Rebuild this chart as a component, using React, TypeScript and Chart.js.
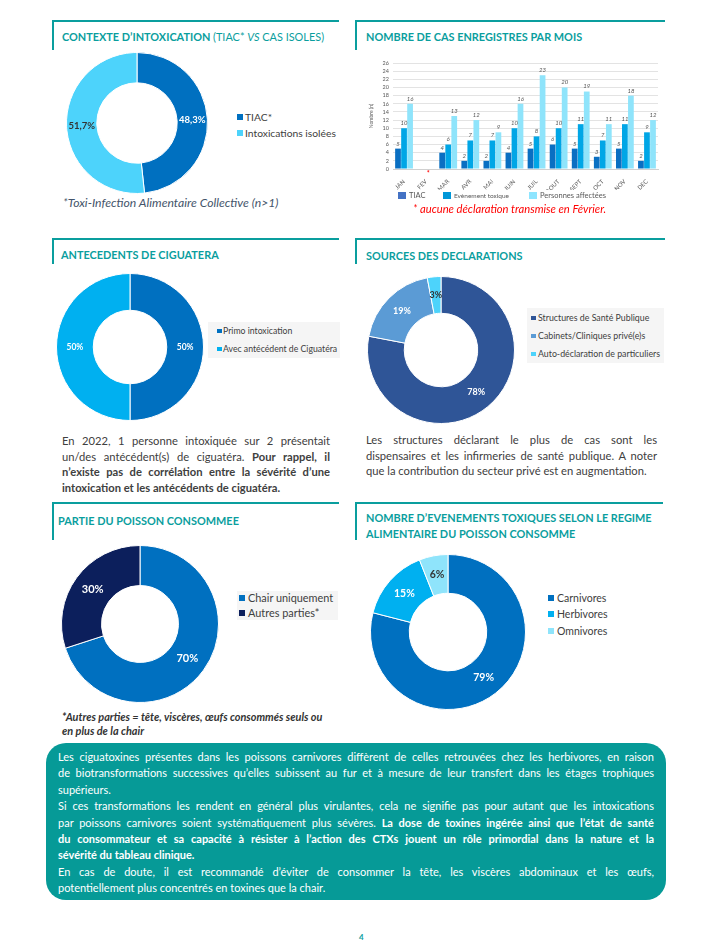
import React, { useEffect, useRef } from "react";
import { Chart, registerables } from "chart.js";

Chart.register(...registerables);

const FONT = "Lato, 'Open Sans', sans-serif";
const TEAL = "#0a9e9e";
const BOX_TEAL = "#069a97";
const TEXT = "#404040";

// ---------- Bar chart data ----------
const months = ["JAN", "FEV", "MAR", "AVR", "MAI", "JUIN", "JUIL", "AOUT", "SEPT", "OCT", "NOV", "DEC"];
const monthSeries = ["TIAC", "Evènement toxique", "Personnes affectées"];
const tiacByMonth = [5, null, 4, 2, 2, 4, 5, 6, 5, 3, 5, 2];
const eventsByMonth = [10, null, 6, 7, 7, 10, 8, 10, 11, 7, 11, 9];
const peopleByMonth = [16, null, 13, 12, 9, 16, 23, 20, 19, 11, 18, 12];
const monthColors = ["#0a6fc2", "#00a6e6", "#8fe4fb"];
const monthLegendColors = ["#4472c4", "#0097d8", "#8ee5ff"];
const yAxisMax = 26;
const yAxisStep = 2;
const yAxisTitle = "Nombre (n)";
const missingMonthIndex = 1;

// ---------- Doughnut data ----------
const contextLabels = ["TIAC*", "Intoxications isolées"];
const contextValues = [48.3, 51.7];
const contextColors = ["#0070c0", "#4dd3fb"];

const historyLabels = ["Primo intoxication", "Avec antécédent de Ciguatéra"];
const historyValues = [50, 50];
const historyColors = ["#0070c0", "#00b0f0"];

const sourceLabels = ["Structures de Santé Publique", "Cabinets/Cliniques privé(e)s", "Auto-déclaration de particuliers"];
const sourceValues = [78, 19, 3];
const sourceColors = ["#2f5597", "#5b9bd5", "#4dd3fb"];

const partLabels = ["Chair uniquement", "Autres parties*"];
const partValues = [70, 30];
const partColors = ["#0070c0", "#0c1f5c"];

const dietLabels = ["Carnivores", "Herbivores", "Omnivores"];
const dietValues = [79, 15, 6];
const dietColors = ["#0070c0", "#00b0f0", "#8fe4fb"];

type DonutProps = {
  cx: number;
  cy: number;
  r: number;
  cutout: string;
  values: number[];
  colors: string[];
  labelColors: string[];
  fontSize: number;
  format: (v: number) => string;
};

function Donut({ cx, cy, r, cutout, values, colors, labelColors, fontSize, format }: DonutProps) {
  const ref = useRef<HTMLCanvasElement | null>(null);
  const size = 2 * r + 2;
  useEffect(() => {
    if (!ref.current) return;
    const labelPlugin = {
      id: "arcLabels",
      afterDatasetsDraw(chart: any) {
        const ctx = chart.ctx;
        const meta = chart.getDatasetMeta(0);
        meta.data.forEach((arc: any, i: number) => {
          const p = arc.tooltipPosition();
          ctx.save();
          ctx.font = `bold ${fontSize}px ${FONT}`;
          ctx.fillStyle = labelColors[i];
          ctx.textAlign = "center";
          ctx.textBaseline = "middle";
          ctx.fillText(format(chart.data.datasets[0].data[i]), p.x, p.y);
          ctx.restore();
        });
      },
    };
    const chart = new Chart(ref.current, {
      type: "doughnut",
      data: {
        labels: values.map((_, i) => String(i)),
        datasets: [{ data: values, backgroundColor: colors, borderColor: "#ffffff", borderWidth: 1 }],
      },
      options: {
        responsive: false,
        animation: false,
        cutout,
        layout: { padding: 0 },
        plugins: { legend: { display: false }, tooltip: { enabled: false } },
      },
      plugins: [labelPlugin],
    });
    return () => chart.destroy();
  }, []);
  return (
    <canvas
      ref={ref}
      width={size}
      height={size}
      style={{ position: "absolute", left: cx - size / 2, top: cy - size / 2, width: size, height: size }}
    />
  );
}

function MonthlyBars() {
  const ref = useRef<HTMLCanvasElement | null>(null);
  useEffect(() => {
    if (!ref.current) return;
    const valuePlugin = {
      id: "barValues",
      afterDatasetsDraw(chart: any) {
        const ctx = chart.ctx;
        chart.data.datasets.forEach((ds: any, di: number) => {
          const meta = chart.getDatasetMeta(di);
          meta.data.forEach((bar: any, i: number) => {
            const v = ds.data[i];
            if (v === null || v === undefined) return;
            ctx.save();
            ctx.font = `italic 6px ${FONT}`;
            ctx.fillStyle = "#595959";
            ctx.textAlign = "center";
            ctx.textBaseline = "bottom";
            ctx.fillText(String(v), bar.x, bar.y - 2);
            ctx.restore();
          });
        });
      },
      afterDraw(chart: any) {
        const ctx = chart.ctx;
        const x = chart.scales.x.getPixelForValue(missingMonthIndex);
        ctx.save();
        ctx.font = `bold 7px ${FONT}`;
        ctx.fillStyle = "#ff0000";
        ctx.textAlign = "center";
        ctx.textBaseline = "top";
        ctx.fillText("*", x + 2, chart.chartArea.bottom + 1);
        ctx.restore();
      },
    };
    const chart = new Chart(ref.current, {
      type: "bar",
      data: {
        labels: months,
        datasets: [tiacByMonth, eventsByMonth, peopleByMonth].map((d, i) => ({
          label: monthSeries[i],
          data: d,
          backgroundColor: monthColors[i],
        })),
      },
      options: {
        responsive: false,
        animation: false,
        layout: { padding: { top: 13, right: 7, left: 0, bottom: 0 } },
        datasets: { bar: { categoryPercentage: 0.82, barPercentage: 0.95 } },
        plugins: { legend: { display: false }, tooltip: { enabled: false } },
        scales: {
          x: {
            grid: { display: false },
            border: { color: "#d0d0d0" },
            ticks: {
              font: { size: 6, family: FONT },
              color: "#595959",
              minRotation: 45,
              maxRotation: 45,
              padding: 1,
              autoSkip: false,
            },
            afterFit(s: any) {
              s.height = 21;
            },
          },
          y: {
            min: 0,
            max: yAxisMax,
            ticks: { stepSize: yAxisStep, autoSkip: false, font: { size: 5.5, family: FONT }, color: "#595959", padding: 4 },
            grid: { color: "#e3e3e3", drawTicks: false },
            border: { display: false },
            title: { display: true, text: yAxisTitle, font: { size: 5, family: FONT }, color: "#595959", padding: { top: 8, bottom: 0 } },
            afterFit(s: any) {
              s.width = 33;
            },
          },
        },
      },
      plugins: [valuePlugin],
    });
    return () => chart.destroy();
  }, []);
  return <canvas ref={ref} width={305} height={140} style={{ position: "absolute", left: 360, top: 50, width: 305, height: 140 }} />;
}

const abs = (left: number, top: number, extra: React.CSSProperties = {}): React.CSSProperties => ({
  position: "absolute",
  left,
  top,
  ...extra,
});

function Corner({ x, y, w, h }: { x: number; y: number; w: number; h: number }) {
  return (
    <>
      <div style={abs(x, y, { width: w, height: 1.5, background: TEAL })} />
      <div style={abs(x, y, { width: 1.5, height: h, background: TEAL })} />
    </>
  );
}

function Title({ x, y, children, size = 10.9 }: { x: number; y: number; children: React.ReactNode; size?: number }) {
  return (
    <div style={abs(x, y - 8, { fontFamily: FONT, fontSize: size, fontWeight: 700, color: TEAL, lineHeight: "16px", whiteSpace: "nowrap" })}>
      {children}
    </div>
  );
}

function Legend({
  x,
  y,
  labels,
  colors,
  gap,
  fontSize,
  box,
  textOffset,
}: {
  x: number;
  y: number;
  labels: string[];
  colors: string[];
  gap: number;
  fontSize: number;
  box: number;
  textOffset: number;
}) {
  return (
    <>
      {labels.map((l, i) => (
        <React.Fragment key={l}>
          <div style={abs(x, y + i * gap - box / 2, { width: box, height: box, background: colors[i] })} />
          <div
            style={abs(x + textOffset, y + i * gap - 8, {
              fontFamily: FONT,
              fontSize,
              color: TEXT,
              lineHeight: "16px",
              whiteSpace: "nowrap",
            })}
          >
            {l}
          </div>
        </React.Fragment>
      ))}
    </>
  );
}

function JLines({
  x,
  y,
  w,
  lh,
  fontSize,
  color,
  lines,
}: {
  x: number;
  y: number;
  w: number;
  lh: number;
  fontSize: number;
  color: string;
  lines: { content: React.ReactNode; justify: boolean }[];
}) {
  return (
    <>
      {lines.map((ln, i) => (
        <div
          key={i}
          style={abs(x, y + i * lh - 8, {
            width: w,
            fontFamily: FONT,
            fontSize,
            color,
            lineHeight: "16px",
            whiteSpace: "nowrap",
            textAlign: ln.justify ? "justify" : "left",
            textAlignLast: ln.justify ? "justify" : "left",
          })}
        >
          {ln.content}
        </div>
      ))}
    </>
  );
}

export default function App() {
  const pct = (v: number) => `${v}%`;
  const pctComma = (v: number) => `${v.toFixed(1).replace(".", ",")}%`;
  return (
    <div style={{ position: "absolute", left: 0, top: 0, width: 710, height: 950, background: "#ffffff", overflow: "hidden", fontFamily: FONT }}>
      {/* Panel frames */}
      <Corner x={52} y={20} w={287} h={30} />
      <Corner x={355} y={20} w={310} h={30} />
      <Corner x={52} y={238} w={287} h={26} />
      <Corner x={355} y={238} w={310} h={26} />
      <Corner x={52} y={502} w={287} h={38} />
      <Corner x={355} y={502} w={308} h={38} />

      {/* Titles */}
      <Title x={62} y={37}>
        CONTEXTE D’INTOXICATION{" "}
        <span style={{ fontWeight: 400 }}>
          (TIAC* <i>VS</i> CAS ISOLES)
        </span>
      </Title>
      <Title x={366} y={37}>NOMBRE DE CAS ENREGISTRES PAR MOIS</Title>
      <Title x={61} y={255}>ANTECEDENTS DE CIGUATERA</Title>
      <Title x={366} y={256}>SOURCES DES DECLARATIONS</Title>
      <Title x={58} y={521}>PARTIE DU POISSON CONSOMMEE</Title>
      <Title x={366} y={518}>NOMBRE D’EVENEMENTS TOXIQUES SELON LE REGIME</Title>
      <Title x={366} y={534}>ALIMENTAIRE DU POISSON CONSOMME</Title>

      {/* Panel 1 */}
      <Donut cx={137} cy={123} r={70} cutout="57%" values={contextValues} colors={contextColors} labelColors={["#ffffff", "#333333"]} fontSize={9.5} format={pctComma} />
      <Legend x={237} y={117} labels={contextLabels} colors={contextColors} gap={16} fontSize={10.3} box={6} textOffset={8} />
      <div style={abs(63, 195, { fontFamily: FONT, fontSize: 12.2, fontStyle: "italic", color: "#44546a", lineHeight: "16px", whiteSpace: "nowrap" })}>
        *Toxi-Infection Alimentaire Collective (n&gt;1)
      </div>

      {/* Panel 2 */}
      <MonthlyBars />
      {monthSeries.map((s, i) => {
        const xs = [398, 443, 529];
        return (
          <React.Fragment key={s}>
            <div style={abs(xs[i], 192, { width: 8, height: 7, background: monthLegendColors[i] })} />
            <div style={abs(xs[i] + 11, 188, { fontFamily: FONT, fontSize: i === 1 ? 6.5 : 7.5, color: "#595959", lineHeight: "16px", whiteSpace: "nowrap" })}>{s}</div>
          </React.Fragment>
        );
      })}
      <div style={abs(413, 201, { fontFamily: FONT, fontSize: 11.2, fontStyle: "italic", color: "#ff0000", lineHeight: "16px", whiteSpace: "nowrap" })}>
        * aucune déclaration transmise en Février.
      </div>

      {/* Panel 3 */}
      <Donut cx={130} cy={347} r={73} cutout="50%" values={historyValues} colors={historyColors} labelColors={["#ffffff", "#ffffff"]} fontSize={8.5} format={pct} />
      <div style={abs(208, 322, { width: 132, height: 36, background: "#f5f5f5" })} />
      <Legend x={217} y={331} labels={historyLabels} colors={historyColors} gap={18} fontSize={8.7} box={4.5} textOffset={6} />
      <JLines
        x={62}
        y={441}
        w={268}
        lh={15.7}
        fontSize={11.2}
        color={TEXT}
        lines={[
          { content: "En 2022, 1 personne intoxiquée sur 2 présentait", justify: true },
          {
            content: (
              <>
                un/des antécédent(s) de ciguatéra. <b>Pour rappel, il</b>
              </>
            ),
            justify: true,
          },
          { content: <b>n’existe pas de corrélation entre la sévérité d’une</b>, justify: true },
          { content: <b>intoxication et les antécédents de ciguatéra.</b>, justify: false },
        ]}
      />

      {/* Panel 4 */}
      <Donut cx={441} cy={350} r={73} cutout="50%" values={sourceValues} colors={sourceColors} labelColors={["#ffffff", "#ffffff", "#333333"]} fontSize={9} format={pct} />
      <div style={abs(527, 308, { width: 137, height: 55, background: "#f5f5f5" })} />
      <Legend x={531} y={318} labels={sourceLabels} colors={sourceColors} gap={18} fontSize={8.8} box={4.5} textOffset={7} />
      <JLines
        x={366}
        y={440}
        w={291}
        lh={15.7}
        fontSize={11.2}
        color={TEXT}
        lines={[
          { content: "Les structures déclarant le plus de cas sont les", justify: true },
          { content: "dispensaires et les infirmeries de santé publique. A noter", justify: true },
          { content: "que la contribution du secteur privé est en augmentation.", justify: false },
        ]}
      />

      {/* Panel 5 */}
      <Donut cx={140} cy={624} r={78} cutout="49%" values={partValues} colors={partColors} labelColors={["#ffffff", "#ffffff"]} fontSize={11} format={pct} />
      <div style={abs(237, 591, { width: 101, height: 29, background: "#f5f5f5" })} />
      <Legend x={239} y={598} labels={partLabels} colors={partColors} gap={15} fontSize={10.9} box={6} textOffset={9} />
      <JLines
        x={62}
        y={717}
        w={280}
        lh={14}
        fontSize={10.9}
        color="#333333"
        lines={[
          { content: <b><i>*Autres parties = tête, viscères, œufs consommés seuls ou</i></b>, justify: false },
          { content: <b><i>en plus de la chair</i></b>, justify: false },
        ]}
      />

      {/* Panel 6 */}
      <Donut cx={448} cy={632} r={77} cutout="50%" values={dietValues} colors={dietColors} labelColors={["#ffffff", "#ffffff", "#333333"]} fontSize={10.5} format={pct} />
      <Legend x={548} y={598} labels={dietLabels} colors={dietColors} gap={16.3} fontSize={10.5} box={6} textOffset={9} />

      {/* Bottom note */}
      <div style={abs(46, 743, { width: 620, height: 157, background: BOX_TEAL, borderRadius: 20 })} />
      <JLines
        x={58}
        y={757}
        w={596}
        lh={16.4}
        fontSize={11}
        color="#ffffff"
        lines={[
          { content: "Les ciguatoxines présentes dans les poissons carnivores diffèrent de celles retrouvées chez les herbivores, en raison", justify: true },
          { content: "de biotransformations successives qu’elles subissent au fur et à mesure de leur transfert dans les étages trophiques", justify: true },
          { content: "supérieurs.", justify: false },
          { content: "Si ces transformations les rendent en général plus virulantes, cela ne signifie pas pour autant que les intoxications", justify: true },
          {
            content: (
              <>
                par poissons carnivores soient systématiquement plus sévères. <b>La dose de toxines ingérée ainsi que l’état de santé</b>
              </>
            ),
            justify: true,
          },
          { content: <b>du consommateur et sa capacité à résister à l’action des CTXs jouent un rôle primordial dans la nature et la</b>, justify: true },
          { content: <b>sévérité du tableau clinique.</b>, justify: false },
          { content: "En cas de doute, il est recommandé d’éviter de consommer la tête, les viscères abdominaux et les œufs,", justify: true },
          { content: "potentiellement plus concentrés en toxines que la chair.", justify: false },
        ]}
      />
      <div style={abs(359, 929, { fontFamily: FONT, fontSize: 8, fontWeight: 700, color: TEAL, lineHeight: "16px" })}>4</div>
    </div>
  );
}
